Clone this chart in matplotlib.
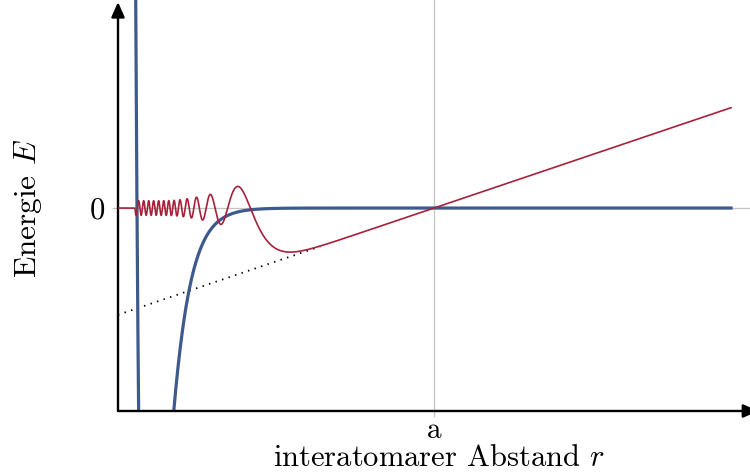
import numpy as np
import matplotlib
matplotlib.use("Agg")
import matplotlib.pyplot as plt

plt.rcParams['font.family'] = ['cmr10']
plt.rcParams['mathtext.fontset'] = 'cm'
plt.rcParams['axes.formatter.use_mathtext'] = True

# axis ranges (r in units of the scattering length a)
x_range = [0.0, 2.0]
y_range = [-1.0, 1.025]
r_end = 1.94

# asymptote u(r) = slope * (r - a)
a_len = 1.0
u_slope = 0.526
dotted_end = 0.64

# interatomic potential: repulsive and attractive exponentials [amplitude, decay]
v_rep = [125.7, 40.0]
v_att = [37.8, 20.0]

# local wave number: k^2 = k0^2 flat in the well, exponential tail beyond r_f
# [k0, r_f, decay, knee sharpness]
k_wave = [397.0, 0.175, 21.5, 4.0]
r_core_guess = 0.0605

x_ticks = [a_len]
x_ticklabels = ['a']
y_ticks = [0.0]
y_ticklabels = ['0']

blue = '#3e5a8d'
red = '#a8213b'
grey = '#c4c4c4'


def potential(r):
    return v_rep[0] * np.exp(-v_rep[1] * r) - v_att[0] * np.exp(-v_att[1] * r)


def wave_number_sq(r):
    k0, r_f, beta, p = k_wave
    return k0 ** 2 / (1 + np.exp(p * beta * (r - r_f))) ** (1 / p)


# zero-energy wave function: Numerov, integrated inwards from the linear tail
r = np.linspace(0.0, r_end, 97001)
h = r[1] - r[0]
g = -wave_number_sq(r)
c = h * h / 12.0
u = np.zeros_like(r)
u[-1] = u_slope * (r[-1] - a_len)
u[-2] = u_slope * (r[-2] - a_len)
for n in range(len(r) - 2, 0, -1):
    u[n - 1] = (2 * u[n] * (1 + 5 * c * g[n]) - u[n + 1] * (1 - c * g[n + 1])) / (1 - c * g[n - 1])

# hard core: wave function vanishes inside the nearest node
nodes = np.where((u[:-1] >= 0) & (u[1:] < 0))[0]
i_core = nodes[np.argmin(np.abs(r[nodes] - r_core_guess))]
u[:i_core + 1] = 0.0

r_pot = np.linspace(0.03, r_end, 20000)
v = potential(r_pot)
r_dot = np.linspace(0.0, dotted_end, 200)

fig = plt.figure(figsize=(7.5, 4.72), dpi=100)
ax = fig.add_axes([118 / 750, 61 / 472, 632 / 750, 411 / 472])
ax.set_xlim(x_range)
ax.set_ylim(y_range)

ax.axhline(0, color=grey, lw=0.9, zorder=1)
ax.axvline(a_len, color=grey, lw=0.9, zorder=1)

ax.plot(r_dot, u_slope * (r_dot - a_len), color='black', lw=1.3,
        linestyle=(0, (0.8, 3.0)), zorder=2)
ax.plot(r_pot, v, color=blue, lw=2.3, zorder=3)
ax.plot(r, u, color=red, lw=1.2, zorder=4)

for side in ['top', 'right', 'left', 'bottom']:
    ax.spines[side].set_visible(False)

arrow = dict(arrowstyle='-|>,head_length=0.45,head_width=0.2', color='black',
             lw=1.7, mutation_scale=20, shrinkA=0, shrinkB=0)
ax.annotate('', xy=(0, 0.995), xytext=(0, 0), xycoords='axes fraction',
            arrowprops=arrow, annotation_clip=False)
ax.annotate('', xy=(1.013, 0), xytext=(0, 0), xycoords='axes fraction',
            arrowprops=arrow, annotation_clip=False)

ax.set_xticks(x_ticks, x_ticklabels)
ax.set_yticks(y_ticks, y_ticklabels)
ax.tick_params(direction='out', length=4, width=0.9, color=grey,
               labelsize=22)
ax.tick_params(axis='x', pad=0.5, labelsize=21)
ax.tick_params(axis='y', pad=5)

fig.text(28 / 750, 1 - 208 / 472, 'Energie $E$', rotation=90, fontsize=22.5,
         ha='center', va='center')
fig.text(439 / 750, 1 - 466 / 472, 'interatomarer Abstand $r$', fontsize=22,
         ha='center', va='baseline')

fig.savefig('out.png', dpi=100)
